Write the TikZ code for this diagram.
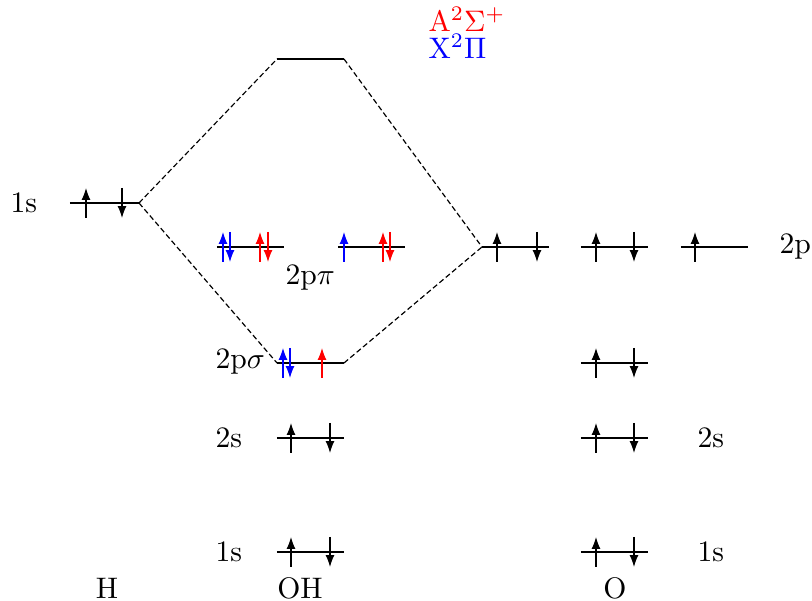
\documentclass[tikz,border=0pt]{standalone}
\usetikzlibrary{arrows.meta}
\tikzset{
  level/.style={line width=0.6pt},
  conn/.style={line width=0.4pt, dash pattern=on 1.8pt off 1pt},
  spin/.style={line width=0.4pt, -{Latex[length=4pt,width=3pt]}},
  lab/.style={anchor=west, inner sep=0pt},
  atom/.style={inner sep=0pt}
}
\newcommand{\spinup}[3][black]{\draw[spin,#1] (#2,{#3+15}) -- (#2,{#3-15});}
\newcommand{\spindown}[3][black]{\draw[spin,#1] (#2,{#3-15}) -- (#2,{#3+15});}
\begin{document}
\begin{tikzpicture}[x=0.337pt,y=-0.337pt]
\useasboundingbox (0,0) rectangle (812,601);
% H 1s
\coordinate (H1a) at (70,203); \coordinate (H1b) at (139,203);
\draw[level] (H1a) -- (H1b);
\spinup{86}{203} \spindown{122}{203}
\node[lab] (lH1) at (10,203) {1s};
% OH antibonding (top)
\coordinate (ABa) at (277,59); \coordinate (ABb) at (344,59);
\draw[level] (ABa) -- (ABb);
% OH 2p sigma
\coordinate (Sa) at (277,363); \coordinate (Sb) at (344,363);
\draw[level] (Sa) -- (Sb);
\spinup[blue]{283}{363} \spindown[blue]{290}{363} \spinup[red]{322}{363}
\node[lab] (lS) at (215,362) {2p$\sigma$};
% OH 2p pi
\coordinate (P1a) at (217,247); \coordinate (P1b) at (284,247);
\coordinate (P2a) at (338,247); \coordinate (P2b) at (405,247);
\draw[level] (P1a) -- (P1b);
\draw[level] (P2a) -- (P2b);
\spinup[blue]{223}{247} \spindown[blue]{230}{247}
\spinup[red]{260}{247} \spindown[red]{268}{247}
\spinup[blue]{344}{247}
\spinup[red]{383}{247} \spindown[red]{390}{247}
\node[lab] (lP) at (285,278) {2p$\pi$};
% OH 2s, 1s
\coordinate (OH2a) at (277,438); \coordinate (OH2b) at (344,438);
\draw[level] (OH2a) -- (OH2b);
\spinup{291}{438} \spindown{330}{438}
\node[lab] (lOH2) at (215,438) {2s};
\coordinate (OH1a) at (277,552); \coordinate (OH1b) at (344,552);
\draw[level] (OH1a) -- (OH1b);
\spinup{291}{552} \spindown{330}{552}
\node[lab] (lOH1) at (215,552) {1s};
% O 2p
\coordinate (Op1a) at (482,247); \coordinate (Op1b) at (549,247);
\coordinate (Op2a) at (581,247); \coordinate (Op2b) at (648,247);
\coordinate (Op3a) at (681,247); \coordinate (Op3b) at (748,247);
\draw[level] (Op1a) -- (Op1b);
\draw[level] (Op2a) -- (Op2b);
\draw[level] (Op3a) -- (Op3b);
\spinup{497}{247} \spindown{537}{247}
\spinup{596}{247} \spindown{634}{247}
\spinup{695}{247}
\node[lab] (lOp) at (779,247) {2p};
% O other levels
\coordinate (Oza) at (581,363); \coordinate (Ozb) at (648,363);
\draw[level] (Oza) -- (Ozb);
\spinup{596}{363} \spindown{634}{363}
\coordinate (O2a) at (581,438); \coordinate (O2b) at (648,438);
\draw[level] (O2a) -- (O2b);
\spinup{596}{438} \spindown{634}{438}
\node[lab] (lO2) at (697,438) {2s};
\coordinate (O1a) at (581,552); \coordinate (O1b) at (648,552);
\draw[level] (O1a) -- (O1b);
\spinup{596}{552} \spindown{634}{552}
\node[lab] (lO1) at (697,552) {1s};
% connectors
\draw[conn] (H1b) -- (ABa);
\draw[conn] (H1b) -- (Sa);
\draw[conn] (ABb) -- (Op1a);
\draw[conn] (Sb) -- (Op1a);
% atom labels
\node[atom] (nH) at (107,588) {H};
\node[atom] (nOH) at (300,588) {OH};
\node[atom] (nO) at (615,588) {O};
% state labels
\node[lab,red] (sA) at (428,19) {$\mathrm{A}^2\Sigma^+$};
\node[lab,blue] (sX) at (428,46) {$\mathrm{X}^2\Pi$};
\end{tikzpicture}
\end{document}
